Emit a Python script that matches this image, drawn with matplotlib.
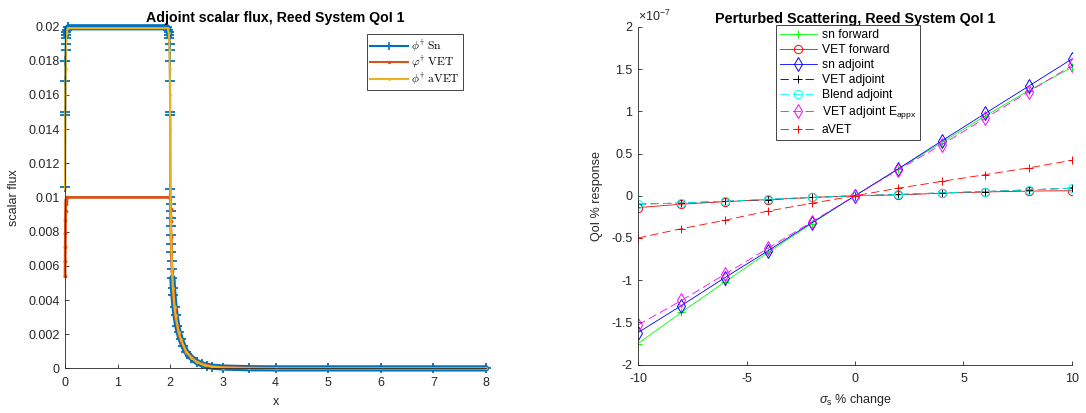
import matplotlib
matplotlib.use('Agg')
import numpy as np
import matplotlib.pyplot as plt
from matplotlib.lines import Line2D
from matplotlib.ticker import FuncFormatter
from matplotlib.font_manager import FontProperties

plt.rcParams['font.family'] = ['Liberation Sans', 'DejaVu Sans']
plt.rcParams['mathtext.fontset'] = 'custom'
plt.rcParams['mathtext.rm'] = 'Liberation Sans'
plt.rcParams['mathtext.it'] = 'Liberation Sans:italic'
plt.rcParams['axes.unicode_minus'] = False

# ---- adjoint scalar flux (Reed problem) ----
sn_x = [0.0, 0.002, 0.004, 0.006, 0.008, 0.010, 0.013, 0.016, 0.020, 0.025, 0.035, 0.06,
        1.94, 1.965, 1.975, 1.980, 1.984, 1.987, 1.990, 1.992, 1.994, 1.996, 1.998, 2.0,
        2.002, 2.004, 2.006, 2.008, 2.011, 2.014, 2.018, 2.022, 2.027, 2.033, 2.04, 2.05,
        2.06, 2.08, 2.1, 2.13, 2.16, 2.2, 2.25, 2.3, 2.4, 2.5, 2.6, 2.7, 2.8, 3.0, 3.5,
        4.0, 5.0, 6.0, 7.0, 8.0]
sn_phi = [0.0106, 0.0148, 0.0150, 0.0168, 0.0180, 0.0186, 0.0190, 0.0193, 0.0195, 0.0197, 0.0198, 0.01995,
          0.01995, 0.0198, 0.0197, 0.0195, 0.0193, 0.0190, 0.0186, 0.0180, 0.0168, 0.0150, 0.0148, 0.0105,
          0.0100, 0.0096, 0.0092, 0.0088, 0.0083, 0.0078, 0.0073, 0.0068, 0.0063, 0.0058, 0.0053, 0.0047,
          0.0043, 0.0036, 0.0031, 0.0025, 0.0021, 0.0017, 0.0013, 0.00098, 0.00062, 0.00038, 0.00024,
          0.00015, 0.0001, 0.00005, 0.00001, 0.0, 0.0, 0.0, 0.0, 0.0]

vet_x = [0.0, 0.002, 0.004, 0.006, 0.008, 0.010, 0.013, 0.017, 0.022, 0.03, 1.97, 2.0,
         2.004, 2.008, 2.014, 2.022, 2.033, 2.05, 2.08, 2.1, 2.16, 2.2, 2.3, 2.5, 2.8, 3.0,
         4.0, 8.0]
vet_phi = [0.0054, 0.0063, 0.0071, 0.0079, 0.0087, 0.0092, 0.0096, 0.0098, 0.0099, 0.0100, 0.0100, 0.0100,
           0.0093, 0.0086, 0.0077, 0.0067, 0.0057, 0.0046, 0.0035, 0.0030, 0.0020, 0.00165, 0.00095,
           0.00037, 0.0001, 0.00005, 0.0, 0.0]

avet_x = [0.0, 0.003, 0.006, 0.01, 0.015, 0.02, 0.03, 0.05, 1.95, 1.97, 1.98, 1.985, 1.99, 1.994,
          1.997, 2.0, 2.004, 2.008, 2.014, 2.022, 2.033, 2.05, 2.08, 2.1, 2.16, 2.2, 2.3, 2.4,
          2.5, 2.65, 2.8, 3.0, 3.5, 4.0, 8.0]
avet_phi = [0.0105, 0.0140, 0.0160, 0.0175, 0.0186, 0.0192, 0.0196, 0.0199, 0.0199, 0.0196, 0.0192,
            0.0186, 0.0175, 0.0160, 0.0140, 0.0105, 0.0097, 0.0089, 0.0079, 0.0069, 0.0059, 0.0047,
            0.0036, 0.0031, 0.0021, 0.0017, 0.00098, 0.00062, 0.00038, 0.00018, 0.0001, 0.00005,
            0.00001, 0.0, 0.0]

# ---- perturbed scattering responses (x 1e-7) ----
sigma_change = [-10, -8, -6, -4, -2, 0, 2, 4, 6, 8, 10]
sn_forward = np.array([-1.75, -1.38, -1.02, -0.67, -0.33, 0, 0.32, 0.63, 0.945, 1.245, 1.52]) * 1e-7
vet_forward = np.array([-0.14, -0.10, -0.07, -0.045, -0.02, 0, 0.01, 0.03, 0.045, 0.055, 0.06]) * 1e-7
sn_adjoint = np.array([-1.62, -1.30, -0.97, -0.65, -0.32, 0, 0.32, 0.65, 0.975, 1.297, 1.62]) * 1e-7
vet_adjoint = np.array([-0.10, -0.085, -0.065, -0.045, -0.02, 0, 0.015, 0.035, 0.05, 0.07, 0.09]) * 1e-7
blend_adjoint = np.array([-0.10, -0.085, -0.065, -0.04, -0.02, 0, 0.015, 0.035, 0.05, 0.07, 0.09]) * 1e-7
vet_adjoint_eappx = np.array([-1.53, -1.24, -0.93, -0.62, -0.31, 0, 0.31, 0.605, 0.918, 1.23, 1.543]) * 1e-7
avet_resp = np.array([-0.50, -0.39, -0.29, -0.18, -0.09, 0, 0.09, 0.17, 0.25, 0.33, 0.42]) * 1e-7

axcol = '#262626'
fs = 9
SN_BLUE, VET_RED, AVET_YEL = '#0072BD', '#D95319', '#EDB120'

fig = plt.figure(figsize=(10.86, 4.13), dpi=100)
ax1 = fig.add_axes([0.0599, 0.108, 0.3877, 0.828])
ax2 = fig.add_axes([0.5875, 0.117, 0.3996, 0.818])


def style(ax):
    for s in ['top', 'right']:
        ax.spines[s].set_visible(False)
    for s in ['left', 'bottom']:
        ax.spines[s].set_color(axcol)
        ax.spines[s].set_linewidth(0.6)
    ax.tick_params(direction='in', length=3, width=0.6, colors=axcol, labelsize=fs)
    ax.tick_params(axis='x', pad=6)
    ax.tick_params(axis='y', pad=4)


# left: flux profiles
# the fine Sn mesh puts markers shoulder to shoulder on the flat parts, so draw those as a band
sx, sp = np.asarray(sn_x), np.asarray(sn_phi)
flat_src = (sx >= 0.02) & (sx <= 1.98)
flat_tail = sx >= 2.035
ax1.plot(sx[flat_src], sp[flat_src], color=SN_BLUE, lw=4.5, solid_capstyle='round', clip_on=False)
ax1.plot(sx[flat_tail], sp[flat_tail], color=SN_BLUE, lw=4.5, solid_capstyle='round', clip_on=False)
ax1.plot(sx, sp, color=SN_BLUE, lw=1.5, marker='+', ms=6.5, mew=1.3, clip_on=False)
ax1.plot(vet_x, vet_phi, color=VET_RED, lw=2.0, marker='.', ms=3.5, clip_on=False)
ax1.plot(avet_x, avet_phi, color=AVET_YEL, lw=1.5, marker='.', ms=2, clip_on=False)
ax1.set_xlim(0, 8)
ax1.set_ylim(0, 0.02)
ax1.set_yticks(np.arange(0, 0.0201, 0.002))
ax1.yaxis.set_major_formatter(FuncFormatter(lambda v, p: f'{v:g}'))
ax1.set_xlabel('x', fontsize=fs, color=axcol, labelpad=5)
ax1.set_ylabel('scalar flux', fontsize=fs, color=axcol, labelpad=6)
ax1.set_title('Adjoint scalar flux, Reed System QoI 1', fontsize=10.2, fontweight='bold', pad=3)
style(ax1)

flux_handles = [
    Line2D([], [], color=SN_BLUE, lw=1.5, marker='+', ms=6, mew=1.2),
    Line2D([], [], color=VET_RED, lw=1.5, marker='.', ms=3),
    Line2D([], [], color=AVET_YEL, lw=1.5, marker='.', ms=2),
]
flux_labels = [r'$\phi^{\dagger}\ \mathrm{Sn}$', r'$\varphi^{\dagger}\ \mathrm{VET}$',
               r'$\phi^{\dagger}\ \mathrm{aVET}$']
leg1 = ax1.legend(flux_handles, flux_labels, loc='upper right', bbox_to_anchor=(0.945, 0.978),
                  borderaxespad=0, fancybox=False, framealpha=1, edgecolor=axcol,
                  handlelength=3.2, handletextpad=0.3, labelspacing=0.0, borderpad=0.25,
                  prop=FontProperties(size=8.4, math_fontfamily='cm'))
leg1.get_frame().set_linewidth(0.6)

# right: response to scattering perturbation
lw = 0.6
dash = (10, 5)
ax2.plot(sigma_change, sn_forward, '-', color=(0, 1, 0), lw=lw, marker='+', ms=6, mew=0.7,
         label='sn forward')
ax2.plot(sigma_change, vet_forward, '-', color=(1, 0, 0), lw=lw, marker='o', ms=6, mew=0.7,
         mfc='none', label='VET forward')
ax2.plot(sigma_change, sn_adjoint, '-', color=(0, 0, 1), lw=lw, marker='d', ms=7, mew=0.7,
         mfc='none', label='sn adjoint')
ax2.plot(sigma_change, vet_adjoint, '--', color='k', lw=lw, marker='+', ms=6, mew=0.7,
         dashes=dash, label='VET adjoint')
ax2.plot(sigma_change, blend_adjoint, '--', color=(0, 1, 1), lw=lw, marker='o', ms=6, mew=0.7,
         mfc='none', dashes=dash, label='Blend adjoint')
ax2.plot(sigma_change, vet_adjoint_eappx, '--', color=(1, 0, 1), lw=lw, marker='d', ms=7, mew=0.7,
         mfc='none', dashes=dash, label=r'VET adjoint E$_{\mathrm{appx}}$')
ax2.plot(sigma_change, avet_resp, '--', color=(1, 0, 0), lw=lw, marker='+', ms=6, mew=0.7,
         dashes=dash, label='aVET')
ax2.set_xlim(-10, 10)
ax2.set_ylim(-2e-7, 2e-7)
ax2.set_xticks([-10, -5, 0, 5, 10])
ax2.set_yticks(np.arange(-2, 2.01, 0.5) * 1e-7)
ax2.yaxis.set_major_formatter(FuncFormatter(lambda v, p: f'{v / 1e-7:g}'))
ax2.text(0.0, 1.008, r'$\times10^{-7}$', transform=ax2.transAxes, fontsize=fs,
         color=axcol, ha='left', va='bottom')
ax2.set_xlabel(r'$\sigma_{\mathrm{s}}$ % change', fontsize=fs, color=axcol, labelpad=5)
ax2.set_ylabel('QoI % response', fontsize=fs, color=axcol, labelpad=6)
ax2.set_title('Perturbed Scattering, Reed System QoI 1', fontsize=10.4, fontweight='bold', pad=3)
style(ax2)
leg2 = ax2.legend(loc='upper left', bbox_to_anchor=(0.318, 1.005), borderaxespad=0,
                  fancybox=False, framealpha=1, edgecolor=axcol, fontsize=8.7,
                  handlelength=3.1, handletextpad=0.4, labelspacing=0.25, borderpad=0.3)
leg2.get_frame().set_linewidth(0.6)

fig.savefig('out.png', dpi=100)
